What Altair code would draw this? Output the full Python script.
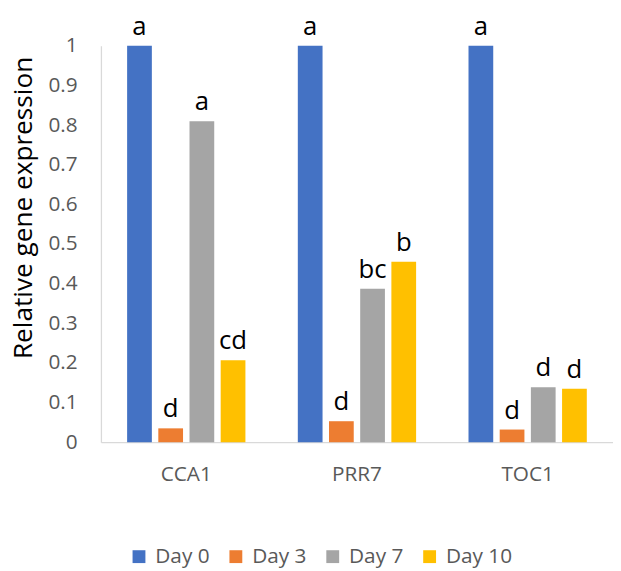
import altair as alt
import pandas as pd

genes = ["CCA1", "PRR7", "TOC1"]
days = ["Day 0", "Day 3", "Day 7", "Day 10"]
day0 = [1.0, 1.0, 1.0]
day3 = [0.035, 0.053, 0.032]
day7 = [0.81, 0.387, 0.139]
day10 = [0.207, 0.455, 0.135]
letters0 = ["a", "a", "a"]
letters3 = ["d", "d", "d"]
letters7 = ["a", "bc", "d"]
letters10 = ["cd", "b", "d"]
colors = ["#4472C4", "#ED7D31", "#A5A5A5", "#FFC000"]
y_ticks = [0, 0.1, 0.2, 0.3, 0.4, 0.5, 0.6, 0.7, 0.8, 0.9, 1]

rows = []
for vals, labs, d in zip([day0, day3, day7, day10],
                         [letters0, letters3, letters7, letters10], days):
    for g, v, l in zip(genes, vals, labs):
        rows.append({"gene": g, "day": d, "value": v, "letter": l})
df = pd.DataFrame(rows)

x_enc = alt.X("gene:N", sort=genes, title=None,
              scale=alt.Scale(paddingInner=0, paddingOuter=0),
              axis=alt.Axis(labelAngle=0, ticks=False, tickSize=0, labelPadding=22,
                            labelFontSize=21, labelColor="#595959",
                            domainColor="#D9D9D9", domainWidth=1.3))
xoff_enc = alt.XOffset("day:N", sort=days,
                       scale=alt.Scale(paddingInner=0.207, paddingOuter=0.84))
y_enc = alt.Y("value:Q", title="Relative gene expression",
              scale=alt.Scale(domain=[0, 1], nice=False),
              axis=alt.Axis(values=y_ticks, format="~g", grid=False, ticks=False,
                            tickSize=0, labelPadding=24, labelFontSize=21,
                            labelColor="#595959", domainColor="#D9D9D9",
                            domainWidth=1.3, titleFontSize=26.5, titleColor="#000000",
                            titleFontWeight="normal", titleAngle=270,
                            titleX=-70, titleY=163.5, titleAlign="center",
                            titleBaseline="alphabetic"))

bars = alt.Chart(df).mark_bar().encode(
    x=x_enc,
    xOffset=xoff_enc,
    y=y_enc,
    color=alt.Color("day:N", sort=days,
                    scale=alt.Scale(domain=days, range=colors),
                    legend=alt.Legend(title=None, orient="none", direction="horizontal",
                                      legendX=28, legendY=506, symbolType="square",
                                      symbolSize=169, symbolStrokeWidth=0,
                                      labelFontSize=21, labelColor="#595959",
                                      labelOffset=6, columnPadding=16, padding=0,
                                      columns=4)),
)

text = alt.Chart(df).mark_text(baseline="alphabetic", dy=-11, fontSize=26,
                               color="#000000", font="Open Sans").encode(
    x=alt.X("gene:N", sort=genes),
    xOffset=alt.XOffset("day:N", sort=days),
    y=alt.Y("value:Q"),
    text="letter:N",
)

chart = alt.layer(bars, text).properties(
    width=518, height=401,
    padding={"left": 94, "top": 35, "right": 0, "bottom": 126},
    autosize=alt.AutoSizeParams(type="none"),
).configure(font="Open Sans").configure_view(stroke=None)

chart.save("out.html", embed_options={"renderer": "svg", "actions": False})
